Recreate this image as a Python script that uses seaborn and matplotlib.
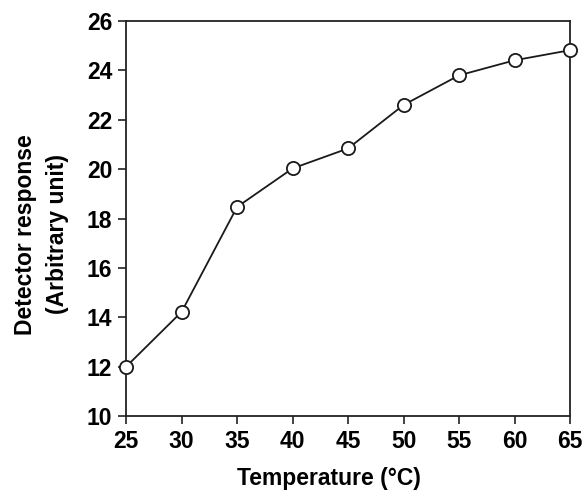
import matplotlib
matplotlib.use("Agg")
import matplotlib.pyplot as plt
import seaborn as sns
import pandas as pd

# data
temperature = [25, 30, 35, 40, 45, 50, 55, 60, 65]
response = [12.0, 14.22, 18.47, 20.03, 20.84, 22.6, 23.8, 24.41, 24.82]

x_ticks = [25, 30, 35, 40, 45, 50, 55, 60, 65]
y_ticks = [10, 12, 14, 16, 18, 20, 22, 24, 26]

df = pd.DataFrame({"temperature": temperature, "response": response})

sns.set_style("ticks")
plt.rcParams['font.family'] = ['Liberation Sans', 'DejaVu Sans']
plt.rcParams['font.weight'] = 'bold'
plt.rcParams['text.color'] = 'black'
plt.rcParams['axes.labelcolor'] = 'black'
plt.rcParams['xtick.labelcolor'] = 'black'
plt.rcParams['ytick.labelcolor'] = 'black'

fig = plt.figure(figsize=(5.84, 4.90), dpi=100)
ax = fig.add_axes([0.216, 0.151, 0.76, 0.806])

sns.lineplot(
    data=df,
    x="temperature",
    y="response",
    color="#1a1a1a",
    linewidth=1.3,
    marker="o",
    markersize=9.5,
    markerfacecolor="white",
    markeredgecolor="#1a1a1a",
    markeredgewidth=1.3,
    clip_on=False,
    zorder=5,
    ax=ax
)

ax.set_xlim(25, 65)
ax.set_ylim(10, 26)
ax.set_xticks(x_ticks)
ax.set_yticks(y_ticks)

ax.tick_params(
    direction='out',
    length=6,
    width=1.2,
    color="#222222",
    labelsize=16.5,
    pad=4
)
for lbl in ax.get_xticklabels() + ax.get_yticklabels():
    lbl.set_fontweight('bold')

for side in ['top', 'right', 'left', 'bottom']:
    ax.spines[side].set_visible(True)
    ax.spines[side].set_linewidth(1.3)
    ax.spines[side].set_color("#222222")

ax.set_xlabel("Temperature (°C)", fontsize=16.5, fontweight='bold')
ax.xaxis.set_label_coords(0.457, -0.128)
ax.set_ylabel("Detector response\n(Arbitrary unit)", fontsize=16.5,
              fontweight='bold', linespacing=1.5)
ax.yaxis.set_label_coords(-0.128, 0.46)

plt.savefig("out.png", dpi=100)
